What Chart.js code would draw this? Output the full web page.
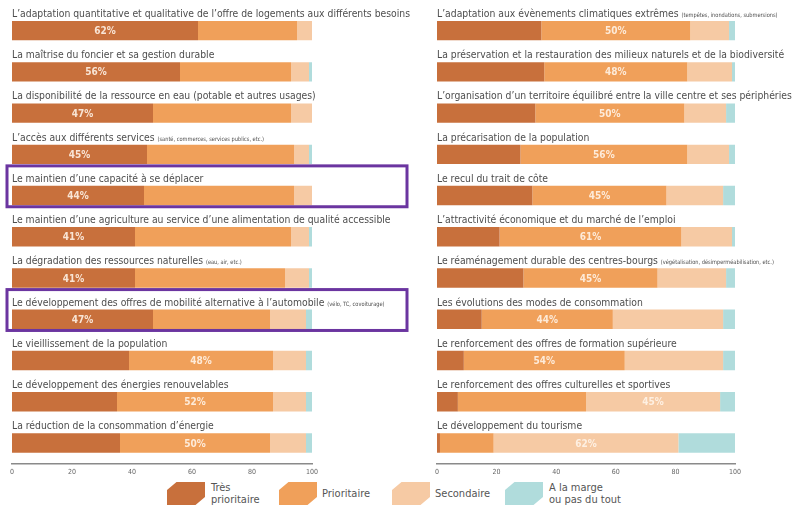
<!DOCTYPE html>
<html>
<head>
<meta charset="utf-8">
<script src="https://cdn.jsdelivr.net/npm/chart.js@4/dist/chart.umd.min.js"></script>
<style>
  body { margin: 0; background: #fff; width: 803px; height: 509px; overflow: hidden; position: relative; }
  #leftWrap { position: absolute; left: 0; top: 0; width: 412px; height: 480px; }
  #rightWrap { position: absolute; left: 412px; top: 0; width: 391px; height: 480px; }
  .legend { position: absolute; top: 482px; font-family: "DejaVu Sans Condensed", sans-serif; font-size: 11px; color: #555; line-height: 12px; }
  .legend .sw { position: absolute; top: 0; width: 38px; height: 23px;
    clip-path: polygon(0 35%, 25% 0, 100% 0, 100% 65%, 75% 100%, 0 100%); }
  .legend .tx { position: absolute; white-space: nowrap; }
</style>
</head>
<body>
<div id="leftWrap"><canvas id="leftChart"></canvas></div>
<div id="rightWrap"><canvas id="rightChart"></canvas></div>
<div id="legend"></div>
<script>
// données (en %)
var seriesNames = ['Très prioritaire', 'Prioritaire', 'Secondaire', 'A la marge ou pas du tout'];
var colors = ['#c8703c', '#f0a05a', '#f6caa4', '#b0dcdc'];

var leftLabels = [
  'L’adaptation quantitative et qualitative de l’offre de logements aux différents besoins',
  'La maîtrise du foncier et sa gestion durable',
  'La disponibilité de la ressource en eau (potable et autres usages)',
  'L’accès aux différents services',
  'Le maintien d’une capacité à se déplacer',
  'Le maintien d’une agriculture au service d’une alimentation de qualité accessible',
  'La dégradation des ressources naturelles',
  'Le développement des offres de mobilité alternative à l’automobile',
  'Le vieillissement de la population',
  'Le développement des énergies renouvelables',
  'La réduction de la consommation d’énergie'
];
var leftNotes = ['', '', '', '(santé, commerces, services publics, etc.)', '', '', '(eau, air, etc.)', '(vélo, TC, covoiturage)', '', '', ''];
var leftTres   = [62, 56, 47, 45, 44, 41, 41, 47, 39, 35, 36];
var leftPrio   = [33, 37, 46, 49, 50, 52, 50, 39, 48, 52, 50];
var leftSec    = [5, 6, 7, 5, 6, 6, 8, 12, 11, 11, 12];
var leftMarge  = [0, 1, 0, 1, 0, 1, 1, 2, 2, 2, 2];
var leftShown  = [0, 0, 0, 0, 0, 0, 0, 0, 1, 1, 1]; // segment qui porte l'étiquette
var leftHighlight = [4, 7];

var rightLabels = [
  'L’adaptation aux évènements climatiques extrêmes',
  'La préservation et la restauration des milieux naturels et de la biodiversité',
  'L’organisation d’un territoire équilibré entre la ville centre et ses périphéries',
  'La précarisation de la population',
  'Le recul du trait de côte',
  'L’attractivité économique et du marché de l’emploi',
  'Le réaménagement durable des centres-bourgs',
  'Les évolutions des modes de consommation',
  'Le renforcement des offres de formation supérieure',
  'Le renforcement des offres culturelles et sportives',
  'Le développement du tourisme'
];
var rightNotes = ['(tempêtes, inondations, submersions)', '', '', '', '', '', '(végétalisation, désimperméabilisation, etc.)', '', '', '', ''];
var rightTres  = [35, 36, 33, 28, 32, 21, 29, 15, 9, 7, 1];
var rightPrio  = [50, 48, 50, 56, 45, 61, 45, 44, 54, 43, 18];
var rightSec   = [13, 15, 14, 14, 19, 17, 23, 37, 33, 45, 62];
var rightMarge = [2, 1, 3, 2, 4, 1, 3, 4, 4, 5, 19];
var rightShown = [1, 1, 1, 1, 1, 1, 1, 1, 1, 2, 2];

var xTicks = [0, 20, 40, 60, 80, 100];

var FONT = '"DejaVu Sans Condensed", sans-serif';
var squeeze = null; // compression horizontale des libellés

var textPlugin = {
  id: 'textPlugin',
  afterDatasetsDraw: function(chart, args, opts) {
    var ctx = chart.ctx;
    var area = chart.chartArea;
    var meta0 = chart.getDatasetMeta(0);
    ctx.save();
    if (squeeze === null) {
      ctx.font = '11px ' + FONT;
      squeeze = 398 / ctx.measureText(leftLabels[0]).width;
    }
    meta0.data.forEach(function(bar, i) {
      var top = bar.y - bar.height / 2;
      // libellé au-dessus de la barre
      ctx.save();
      ctx.translate(area.left, top - 4);
      ctx.scale(squeeze, 1);
      ctx.textBaseline = 'alphabetic';
      ctx.textAlign = 'left';
      ctx.fillStyle = '#4d4d4d';
      ctx.font = '11px ' + FONT;
      var lbl = opts.labels[i];
      ctx.fillText(lbl, 0, 0);
      if (opts.notes[i]) {
        var w = ctx.measureText(lbl + ' ').width;
        ctx.font = '6px ' + FONT;
        ctx.fillText(opts.notes[i], w, 0);
      }
      ctx.restore();
      // pourcentage dans le segment
      var dsIdx = opts.shown[i];
      var seg = chart.getDatasetMeta(dsIdx).data[i];
      var val = chart.data.datasets[dsIdx].data[i];
      ctx.font = 'bold 10px ' + FONT;
      ctx.textAlign = 'center';
      ctx.textBaseline = 'middle';
      ctx.fillStyle = 'rgba(255,245,235,0.88)';
      ctx.fillText(val + '%', (seg.x + seg.base) / 2, bar.y + 1);
    });
    // encadrés violets
    (opts.highlight || []).forEach(function(i) {
      var bar = meta0.data[i];
      var top = bar.y - bar.height / 2 - 20;
      var bottom = bar.y + bar.height / 2 + 1.5;
      ctx.strokeStyle = '#6b35a0';
      ctx.lineWidth = 3;
      ctx.strokeRect(area.left - 5, top, area.right + 95 - (area.left - 5), bottom - top);
    });
    ctx.restore();
  }
};

function makeChart(id, labels, notes, tres, prio, sec, marge, shown, highlight, padding) {
  var series = [tres, prio, sec, marge];
  return new Chart(document.getElementById(id), {
    type: 'bar',
    data: {
      labels: labels,
      datasets: series.map(function(d, k) {
        return {
          label: seriesNames[k],
          data: d,
          backgroundColor: colors[k],
          borderWidth: 0,
          categoryPercentage: 1,
          barPercentage: 0.47
        };
      })
    },
    options: {
      indexAxis: 'y',
      responsive: true,
      maintainAspectRatio: false,
      animation: false,
      layout: { padding: padding },
      plugins: {
        legend: { display: false },
        tooltip: { enabled: false },
        textPlugin: { labels: labels, notes: notes, shown: shown, highlight: highlight }
      },
      scales: {
        x: {
          stacked: true,
          min: 0,
          max: 100,
          afterBuildTicks: function(axis) {
            axis.ticks = xTicks.map(function(v) { return { value: v }; });
          },
          grid: { display: false, drawTicks: false },
          border: { display: true, color: '#8a8a8a', width: 1.5 },
          ticks: { color: '#666', font: { size: 7, family: FONT }, padding: 4 }
        },
        y: {
          stacked: true,
          display: false
        }
      }
    },
    plugins: [textPlugin]
  });
}

makeChart('leftChart', leftLabels, leftNotes, leftTres, leftPrio, leftSec, leftMarge, leftShown, leftHighlight,
  { left: 12, right: 100, top: 10, bottom: 0 });
makeChart('rightChart', rightLabels, rightNotes, rightTres, rightPrio, rightSec, rightMarge, rightShown, [],
  { left: 25, right: 68, top: 10, bottom: 0 });

// légende
var legendPos = [
  { sw: 167, tx: 211, text: 'Très<br>prioritaire' },
  { sw: 279, tx: 322, text: 'Prioritaire' },
  { sw: 392, tx: 435, text: 'Secondaire' },
  { sw: 505, tx: 549, text: 'A la marge<br>ou pas du tout' }
];
var legend = document.getElementById('legend');
legendPos.forEach(function(p, k) {
  var item = document.createElement('div');
  item.className = 'legend';
  item.style.left = '0px';
  var twoLines = p.text.indexOf('<br>') >= 0;
  item.innerHTML = '<div class="sw" style="left:' + p.sw + 'px;background:' + colors[k] + '"></div>' +
    '<div class="tx" style="left:' + p.tx + 'px;top:' + (twoLines ? 0 : 6) + 'px">' + p.text + '</div>';
  legend.appendChild(item);
});
</script>
</body>
</html>
